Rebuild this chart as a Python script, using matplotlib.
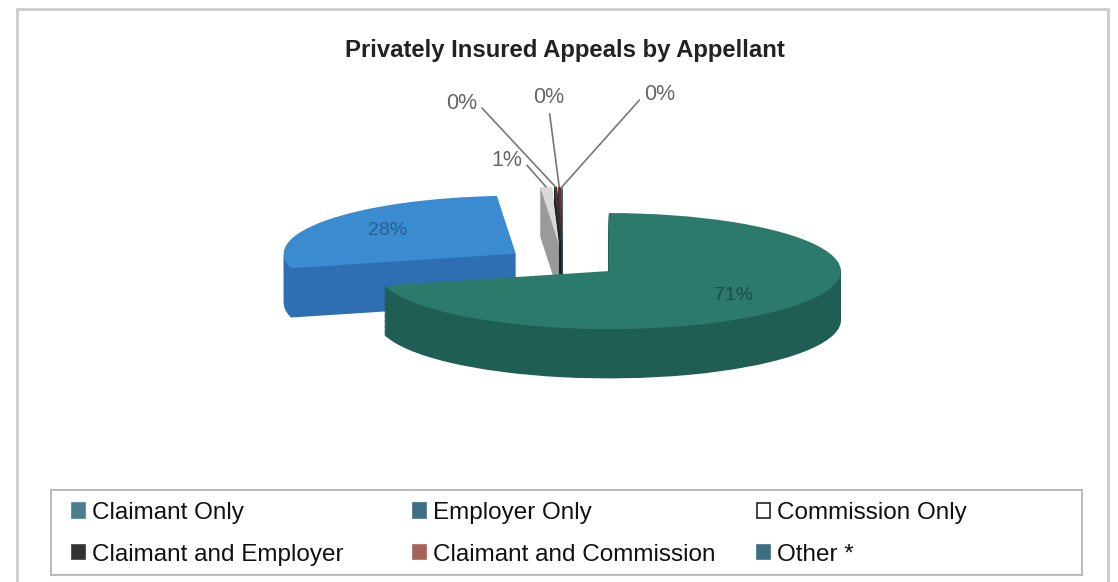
import matplotlib
matplotlib.use("Agg")
import matplotlib.pyplot as plt
from matplotlib.patches import Patch, Rectangle
import numpy as np

# ---- data ----
categories = ["Claimant Only", "Employer Only", "Commission Only",
              "Claimant and Employer", "Claimant and Commission", "Other *"]
values = [71.0, 27.7, 0.8, 0.2, 0.2, 0.1]
title = "Privately Insured Appeals by Appellant"

# ---- style ----
top_colors = ["#2b7a6b", "#3b8bd0", "#d9d9d9", "#3a3a3a", "#6b2d2d", "#3e6e82"]
side_colors = ["#1f5e53", "#2d6fb2", "#9a9a9a", "#222222", "#4a1e1e", "#2c5466"]
legend_colors = ["#4a7f90", "#3e6e82", "#ffffff", "#333333", "#a8625a", "#3e6e82"]
explode = [0.25, 0.25, 0.3, 0.3, 0.3, 0.3]
slice_z = [3, 1, 2, 2, 2, 2]   # painter order (front slice last)

plt.rcParams['font.family'] = ['Liberation Sans', 'DejaVu Sans']

W, H = 1118, 582
fig = plt.figure(figsize=(W / 100, H / 100), dpi=100)

def px(x0, y0, x1, y1):
    return [x0 / W, 1 - y1 / H, (x1 - x0) / W, (y1 - y0) / H]

ax = fig.add_axes(px(99, 80, 1027, 420))
depth = 0.85
nlayers = 40
for i in range(nlayers + 1):
    t = depth * (1 - i / nlayers)
    is_top = (i == nlayers)
    res = ax.pie(values, explode=explode, startangle=90, counterclock=False,
                 colors=top_colors if is_top else side_colors,
                 center=(0, -t), radius=1.0,
                 wedgeprops=dict(linewidth=0),
                 autopct=(lambda p: f"{p:.0f}%" if p >= 5 else "") if is_top else None,
                 pctdistance=0.68,
                 textprops=dict(fontsize=14, color="#1d4d48"))
    wedges = res[0]
    for w, z in zip(wedges, slice_z):
        w.set_zorder(z + i * 0.001)
    if is_top:
        top_wedges = wedges
        autotexts = res[2]
        for txt in autotexts:
            txt.set_zorder(10)
        autotexts[1].set_color("#2a5f8f")

ax.set_aspect('auto')
ax.set_xlim(-2.0, 2.0)
ax.set_ylim(-2.72, 3.14)
ax.axis('off')

# small-slice labels with leader lines
total = sum(values)
label_pos = [None, None, (0.4535, 0.725), (0.413, 0.823), (0.491, 0.832), (0.590, 0.837)]
relpos = [None, None, (1, 0.5), (1, 0.5), (0.5, 0), (0, 0.5)]
for k in range(2, len(values)):
    w = top_wedges[k]
    mid = np.deg2rad((w.theta1 + w.theta2) / 2)
    cx, cy = w.center
    xy = (cx + w.r * np.cos(mid), cy + w.r * np.sin(mid))
    ax.annotate(f"{values[k] / total * 100:.0f}%", xy=xy, xycoords='data',
                xytext=label_pos[k], textcoords='figure fraction',
                ha='center', va='center', fontsize=15.5, color="#666666",
                arrowprops=dict(arrowstyle='-', color="#777777", lw=1.2,
                                relpos=relpos[k], shrinkA=2, shrinkB=0),
                zorder=12, annotation_clip=False)

# title
fig.text(565 / W, 1 - 50 / H, title, ha='center', va='center',
         fontsize=17.2, fontweight='bold', color="#222222")

# outer border and legend frame
fig.patches.append(Rectangle((17 / W, -0.01), (1108 - 17) / W, 1 - 9 / H + 0.01,
                             transform=fig.transFigure, fill=False,
                             edgecolor="#cccccc", lw=2))
fig.patches.append(Rectangle((51 / W, 1 - 575 / H), (1082 - 51) / W, (575 - 490) / H,
                             transform=fig.transFigure, fill=False,
                             edgecolor="#bbbbbb", lw=1.5))

handles = [Patch(facecolor=c, edgecolor=('#222222' if c == '#ffffff' else c), lw=1.2)
           for c in legend_colors]
col_x = [72, 413, 757]
order = [[0, 3], [1, 4], [2, 5]]
for cx_, idx in zip(col_x, order):
    leg = fig.legend([handles[j] for j in idx], [categories[j] for j in idx],
                     loc='upper left', bbox_to_anchor=(cx_ / W, 1 - 502 / H),
                     frameon=False, fontsize=17.5, handlelength=0.53, handleheight=0.53,
                     handletextpad=0.3, labelspacing=0.82, borderpad=0,
                     borderaxespad=0)
    for t in leg.get_texts():
        t.set_color("#111111")

fig.savefig("out.png", dpi=100, facecolor="white")
